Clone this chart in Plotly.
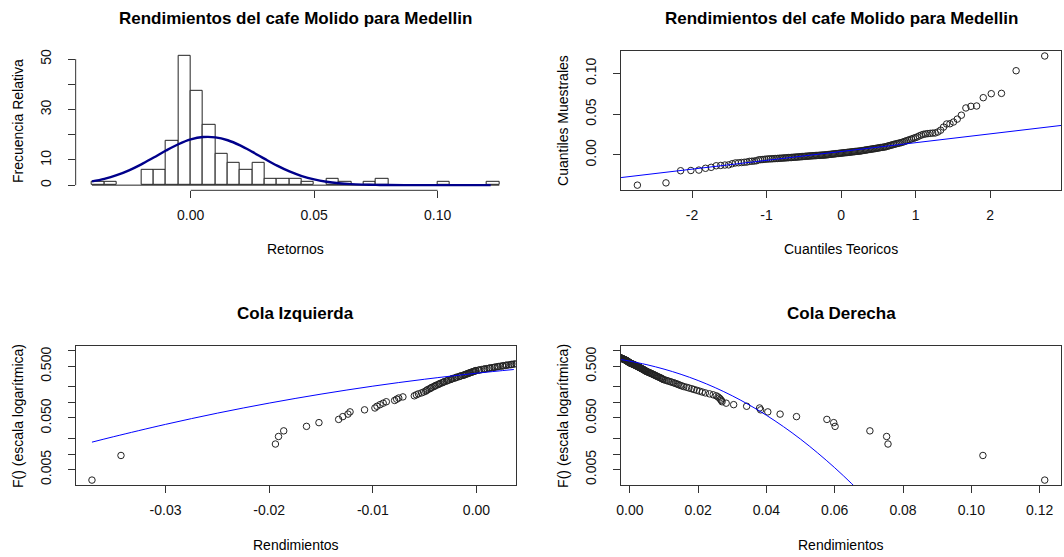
import numpy as np
import plotly.graph_objects as go
from statistics import NormalDist

# ---------------- data ----------------
returns = [
    -0.0371, -0.0343,
    -0.0194, -0.0191, -0.0186, -0.0164, -0.0152,
    -0.0133, -0.0129, -0.0124, -0.0122, -0.0108,
    -0.0098, -0.0096, -0.0093, -0.0090, -0.0087, -0.0079, -0.0077,
    -0.0075, -0.0071, -0.0060, -0.0058, -0.0056, -0.0053, -0.0051,
    -0.0049, -0.0048, -0.0047, -0.0045, -0.0044, -0.0043, -0.0041, -0.0040,
    -0.0039, -0.0037, -0.0036, -0.0035, -0.0033, -0.0032, -0.0031, -0.0029,
    -0.0028, -0.0027, -0.0025, -0.0024, -0.0023, -0.0021, -0.0020, -0.0019,
    -0.0017, -0.0016, -0.0015, -0.0013, -0.0012, -0.0011, -0.0010, -0.0009,
    -0.0008, -0.0007, -0.0006, -0.0005, -0.0004, -0.0003, -0.0002, -0.0001,
    -0.00005,
    0.0002, 0.0003, 0.0005, 0.0007, 0.0008, 0.0010, 0.0012, 0.0013, 0.0015,
    0.0017, 0.0018, 0.0020, 0.0021, 0.0023, 0.0025, 0.0026, 0.0028, 0.0029,
    0.0031, 0.0033, 0.0034, 0.0036, 0.0038, 0.0039, 0.0041, 0.0043, 0.0044,
    0.0046, 0.0047, 0.0049,
    0.0052, 0.0054, 0.0057, 0.0059, 0.0062, 0.0064, 0.0067, 0.0069, 0.0072,
    0.0074, 0.0077, 0.0079, 0.0082, 0.0085, 0.0088, 0.0091, 0.0093, 0.0096,
    0.0098,
    0.0103, 0.0108, 0.0113, 0.0118, 0.0123, 0.0128, 0.0133, 0.0138, 0.0142,
    0.0147,
    0.0152, 0.0158, 0.0166, 0.0173, 0.0181, 0.0188, 0.0196,
    0.0204, 0.0212, 0.0221, 0.0233, 0.0244,
    0.0253, 0.0258, 0.0262, 0.0265, 0.0268, 0.0270, 0.0282,
    0.0304, 0.0342, 0.0380, 0.0383, 0.0404, 0.0440, 0.0488,
    0.0577, 0.0597, 0.0601, 0.0703, 0.0752, 0.0756, 0.1034, 0.1215,
]

hist_start = -0.040
hist_end = 0.125
hist_size = 0.005

# fitted normal density over the histogram
hist_curve_x = [-0.040, -0.035, -0.030, -0.025, -0.020, -0.015, -0.010, -0.005,
                0.000, 0.005, 0.010, 0.015, 0.020, 0.025, 0.030, 0.035, 0.040,
                0.045, 0.050, 0.055, 0.060, 0.065, 0.070, 0.075, 0.080, 0.090,
                0.100, 0.110, 0.1215]
hist_curve_y = [1.49, 2.50, 3.94, 5.88, 8.26, 10.96, 13.73, 16.24, 18.13, 19.09,
                18.98, 17.81, 15.78, 13.19, 10.41, 7.75, 5.45, 3.61, 2.26, 1.34,
                0.75, 0.39, 0.20, 0.09, 0.04, 0.01, 0.0, 0.0, 0.0]

# qq reference line (read)
qq_line_x = [-3.0, 3.0]
qq_line_y = [-0.0283, 0.0367]

# normal CDF in the left tail (read)
left_curve_x = [-0.0371, -0.035, -0.030, -0.025, -0.020, -0.015, -0.010, -0.005,
                0.000, 0.0036]
left_curve_y = [0.0170, 0.0217, 0.0376, 0.0620, 0.0971, 0.1450, 0.2069, 0.2820,
                0.3682, 0.4351]

# normal survival function in the right tail (read)
right_curve_x = [-0.0028, 0.000, 0.005, 0.010, 0.015, 0.020, 0.025, 0.030, 0.035,
                 0.040, 0.045, 0.050, 0.055, 0.060, 0.065, 0.070]
right_curve_y = [0.6812, 0.6318, 0.5383, 0.4427, 0.3503, 0.2660, 0.1934, 0.1344,
                 0.0891, 0.0563, 0.0339, 0.0194, 0.0105, 0.00542, 0.00265, 0.00123]

hist_xticks = [0.0, 0.05, 0.10]
hist_xlabels = ["0.00", "0.05", "0.10"]
hist_yticks = [0, 10, 20, 30, 40, 50]
hist_ylabels = ["0", "10", "", "30", "", "50"]
qq_xticks = [-2, -1, 0, 1, 2]
qq_xlabels = ["-2", "-1", "0", "1", "2"]
qq_yticks = [0.0, 0.05, 0.10]
qq_ylabels = ["0.00", "0.05", "0.10"]
left_xticks = [-0.03, -0.02, -0.01, 0.0]
left_xlabels = ["-0.03", "-0.02", "-0.01", "0.00"]
right_xticks = [0.0, 0.02, 0.04, 0.06, 0.08, 0.10, 0.12]
right_xlabels = ["0.00", "0.02", "0.04", "0.06", "0.08", "0.10", "0.12"]
log_yticks = [0.005, 0.01, 0.02, 0.05, 0.1, 0.2, 0.5, 1.0]
log_ylabels = ["0.005", "", "", "0.050", "", "", "0.500", ""]

title_top = "Rendimientos del cafe Molido para Medellin"
title_left = "Cola Izquierda"
title_right = "Cola Derecha"

# ---------------- derived statistics ----------------
r = np.sort(np.array(returns))
n = len(r)
pp = (np.arange(1, n + 1) - 0.5) / n
theo = np.array([NormalDist().inv_cdf(p) for p in pp])
med = float(np.median(r))


def ext(lo, hi):
    d = 0.04 * (hi - lo)
    return [lo - d, hi + d]


edges = np.arange(hist_start, hist_end + hist_size / 2, hist_size)
counts, _ = np.histogram(r, bins=edges)
dens_max = counts.max() / (n * hist_size)

# ---------------- layout geometry ----------------
W, H = 1064, 557
colL = [71 / W, 513 / W]
colR = [619 / W, 1061 / W]
rowT = [1 - 189 / H, 1 - 49 / H]
rowB = [1 - 485 / H, 1 - 345 / H]

FONT = "Liberation Sans, Arial, sans-serif"
AX = "#333333"
PT = "#222222"

fig = go.Figure()

# histogram
fig.add_trace(go.Histogram(
    x=r, xbins=dict(start=hist_start, end=hist_end, size=hist_size),
    histnorm="probability density", autobinx=False,
    marker=dict(color="white", line=dict(color=PT, width=1)),
    xaxis="x", yaxis="y", hoverinfo="skip"))
fig.add_trace(go.Scatter(
    x=[hist_start, hist_end], y=[0, 0], mode="lines",
    line=dict(color=PT, width=1), xaxis="x", yaxis="y", hoverinfo="skip"))
fig.add_trace(go.Scatter(
    x=hist_curve_x, y=hist_curve_y, mode="lines",
    line=dict(color="#00008B", width=2.4, shape="spline"),
    xaxis="x", yaxis="y", hoverinfo="skip"))

marker = dict(symbol="circle-open", size=6.5, color="#222222",
              line=dict(width=1, color="#222222"))

# QQ plot
fig.add_trace(go.Scatter(x=theo, y=r, mode="markers", marker=marker,
                         xaxis="x2", yaxis="y2", hoverinfo="skip"))
fig.add_trace(go.Scatter(x=qq_line_x, y=qq_line_y, mode="lines",
                         line=dict(color="#0000FF", width=1),
                         xaxis="x2", yaxis="y2", hoverinfo="skip"))

# left tail
fig.add_trace(go.Scatter(x=r, y=pp, mode="markers", marker=marker,
                         xaxis="x3", yaxis="y3", hoverinfo="skip"))
fig.add_trace(go.Scatter(x=left_curve_x, y=left_curve_y, mode="lines",
                         line=dict(color="#0000FF", width=1, shape="spline"),
                         xaxis="x3", yaxis="y3", hoverinfo="skip"))

# right tail
fig.add_trace(go.Scatter(x=r, y=1 - pp, mode="markers", marker=marker,
                         xaxis="x4", yaxis="y4", hoverinfo="skip"))
fig.add_trace(go.Scatter(x=right_curve_x, y=right_curve_y, mode="lines",
                         line=dict(color="#0000FF", width=1, shape="spline"),
                         xaxis="x4", yaxis="y4", hoverinfo="skip"))

tickfont = dict(family=FONT, size=14, color="#111111")


def xax(domain, rng, tv, tt, anchor, line=True):
    return dict(domain=domain, range=rng, tickvals=tv, ticktext=tt, anchor=anchor,
                ticks="outside", ticklen=7, tickwidth=1, tickcolor=AX,
                showline=line, mirror=line, linecolor=AX, linewidth=1,
                showgrid=False, zeroline=False, tickfont=tickfont,
                ticklabelstandoff=5, fixedrange=True)


def yax(domain, rng, tv, tt, anchor, line=True, log=False):
    d = dict(domain=domain, range=rng, tickvals=tv, ticktext=tt, anchor=anchor,
             ticks="outside", ticklen=7, tickwidth=1, tickcolor=AX,
             showline=line, mirror=line, linecolor=AX, linewidth=1,
             showgrid=False, zeroline=False, tickfont=tickfont, tickangle=-90,
             ticklabelstandoff=11, fixedrange=True)
    if log:
        d["type"] = "log"
    return d


lg_rng = ext(np.log10(pp.min()), np.log10((1 - pp).max()))

fig.update_layout(
    width=W, height=H, margin=dict(l=0, r=0, t=0, b=0),
    paper_bgcolor="white", plot_bgcolor="white", showlegend=False,
    bargap=0,
    xaxis=xax(colL, ext(hist_start, hist_end), hist_xticks, hist_xlabels, "y", line=False),
    yaxis=yax(rowT, ext(0, dens_max), hist_yticks, hist_ylabels, "x", line=False),
    xaxis2=xax(colR, ext(theo.min(), theo.max()), qq_xticks, qq_xlabels, "y2"),
    yaxis2=yax(rowT, ext(r.min(), r.max()), qq_yticks, qq_ylabels, "x2"),
    xaxis3=xax(colL, ext(r.min(), med), left_xticks, left_xlabels, "y3"),
    yaxis3=yax(rowB, lg_rng, log_yticks, log_ylabels, "x3", log=True),
    xaxis4=xax(colR, ext(med, r.max()), right_xticks, right_xlabels, "y4"),
    yaxis4=yax(rowB, lg_rng, log_yticks, log_ylabels, "x4", log=True),
)

# partial axis lines for the histogram (R style)
fig.add_shape(type="line", xref="x", yref="y domain", x0=hist_xticks[0], x1=hist_xticks[-1],
              y0=0, y1=0, line=dict(color=AX, width=1))
fig.add_shape(type="line", xref="x domain", yref="y", x0=0, x1=0, y0=hist_yticks[0],
              y1=hist_yticks[-1], line=dict(color=AX, width=1))

ann = []


def txt(x, y, s, size=14, bold=False, angle=0):
    ann.append(dict(x=x, y=y, xref="paper", yref="paper", text=("<b>%s</b>" % s) if bold else s,
                    showarrow=False, xanchor="center", yanchor="middle", textangle=angle,
                    font=dict(family=FONT, size=size, color="black")))


cL = (colL[0] + colL[1]) / 2
cR = (colR[0] + colR[1]) / 2
mT = (rowT[0] + rowT[1]) / 2
mB = (rowB[0] + rowB[1]) / 2

txt(cL, 1 - 17 / H, title_top, 17, True)
txt(cR, 1 - 17 / H, title_top, 17, True)
txt(cL, 1 - 313 / H, title_left, 17, True)
txt(cR, 1 - 313 / H, title_right, 17, True)
txt(cL, 1 - 248 / H, "Retornos")
txt(cR, 1 - 248 / H, "Cuantiles Teoricos")
txt(cL, 1 - 545 / H, "Rendimientos")
txt(cR, 1 - 545 / H, "Rendimientos")
txt(12.5 / W, mT, "Frecuencia Relativa", angle=-90)
txt(560 / W, mT, "Cuantiles Muestrales", angle=-90)
txt(12.5 / W, mB, "F() (escala logarítmica)", angle=-90)
txt(560 / W, mB, "F() (escala logarítmica)", angle=-90)

fig.update_layout(annotations=ann)

fig.write_html("out.html")
